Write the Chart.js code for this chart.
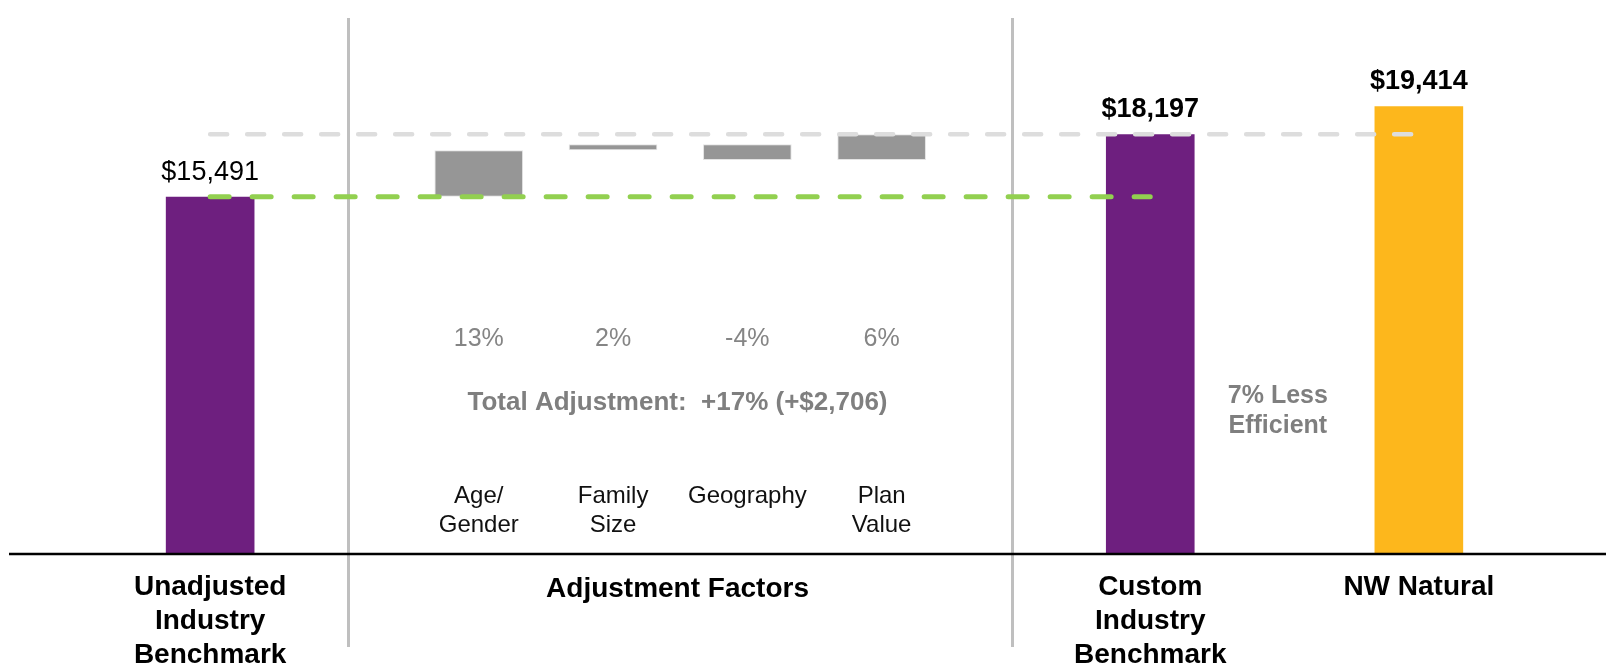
<!DOCTYPE html>
<html>
<head>
<meta charset="utf-8">
<script src="https://cdn.jsdelivr.net/npm/chart.js@4.4.1/dist/chart.umd.min.js"></script>
<style>
  html, body { margin: 0; padding: 0; background: #fff; }
  #wrap { width: 1606px; height: 670px; position: relative; }
</style>
</head>
<body>
<div id="wrap"><canvas id="myChart"></canvas></div>
<script>
// category slots (empty strings are spacer slots between groups)
const categories = ['Unadjusted Industry Benchmark', '', 'Age/Gender', 'Family Size', 'Geography', 'Plan Value', '', 'Custom Industry Benchmark', '', 'NW Natural'];
const axisLabels = [['Unadjusted', 'Industry', 'Benchmark'], [], [], [], [], [], [], ['Custom', 'Industry', 'Benchmark'], [], ['NW Natural']];
const factorLabels = [[], [], ['Age/', 'Gender'], ['Family', 'Size'], ['Geography'], ['Plan', 'Value'], [], [], [], []];

// full bars
const totals = [15491, null, null, null, null, null, null, 18197, null, 19414];
const totalColors = ['#6E1F7F', null, null, null, null, null, null, '#6E1F7F', null, '#FDB71C'];
const valueLabels = ['$15,491', '', '', '', '', '', '', '$18,197', '', '$19,414'];
const valueBold = [false, false, false, false, false, false, false, true, false, true];

// waterfall steps
const stepFrom = [null, null, 15491, 17505, 17765, 17085, null, null, null, null];
const stepTo = [null, null, 17505, 17765, 17085, 18197, null, null, null, null];
const pctLabels = ['', '', '13%', '2%', '-4%', '6%', '', '', '', ''];

// reference lines
const unadjustedLine = [15491, 15491, 15491, 15491, 15491, 15491, 15491, 15491, null, null];
const customLine = [18197, 18197, 18197, 18197, 18197, 18197, 18197, 18197, 18197, 18197];

const totalText = 'Total Adjustment:  +17% (+$2,706)';
const gapText = ['7% Less', 'Efficient'];

const FONT = "'Liberation Sans', Arial, sans-serif";

const steps = stepFrom.map((v, i) => v === null ? null : [v, stepTo[i]]);

const overlay = {
  id: 'overlay',
  beforeDatasetsDraw(chart) {
    const { ctx, chartArea } = chart;
    const x = chart.scales.x;
    ctx.save();
    // separators between groups
    ctx.strokeStyle = '#BFBFBF';
    ctx.lineWidth = 3;
    [1.03, 5.97].forEach(v => {
      const px = Math.round(x.getPixelForValue(v)) + 0.5;
      ctx.beginPath();
      ctx.moveTo(px, chartArea.top);
      ctx.lineTo(px, chartArea.bottom + 93);
      ctx.stroke();
    });
    ctx.restore();
  },
  afterDatasetsDraw(chart) {
    const { ctx, chartArea } = chart;
    const x = chart.scales.x, y = chart.scales.y;
    const bottom = chartArea.bottom;
    ctx.save();
    // baseline
    ctx.strokeStyle = '#000';
    ctx.lineWidth = 2.5;
    ctx.beginPath();
    ctx.moveTo(9, bottom);
    ctx.lineTo(chart.width, bottom);
    ctx.stroke();

    ctx.textAlign = 'center';
    ctx.textBaseline = 'alphabetic';

    // value labels
    valueLabels.forEach((t, i) => {
      if (!t) return;
      ctx.fillStyle = '#000';
      ctx.font = (valueBold[i] ? 'bold ' : '') + '27px ' + FONT;
      ctx.fillText(t, x.getPixelForValue(i), y.getPixelForValue(totals[i]) - 17);
    });

    // factor percentages
    ctx.fillStyle = '#858585';
    ctx.font = '25px ' + FONT;
    pctLabels.forEach((t, i) => {
      if (t) ctx.fillText(t, x.getPixelForValue(i), bottom - 208);
    });

    ctx.font = 'bold 26px ' + FONT;
    ctx.fillStyle = '#7F7F7F';
    ctx.fillText(totalText, x.getPixelForValue(3.48), bottom - 144);
    ctx.font = 'bold 25px ' + FONT;
    gapText.forEach((t, k) => {
      ctx.fillText(t, x.getPixelForValue(7.95), bottom - 151 + k * 30);
    });

    // factor names above the axis
    ctx.fillStyle = '#111';
    ctx.font = '24px ' + FONT;
    factorLabels.forEach((lines, i) => {
      lines.forEach((t, k) => {
        ctx.fillText(t, x.getPixelForValue(i), bottom - 51 + k * 29);
      });
    });

    // group labels below the axis
    ctx.fillStyle = '#000';
    ctx.font = 'bold 28px ' + FONT;
    axisLabels.forEach((lines, i) => {
      lines.forEach((t, k) => {
        ctx.fillText(t, x.getPixelForValue(i), bottom + 41 + k * 34);
      });
    });
    ctx.fillText('Adjustment Factors', x.getPixelForValue(3.48), bottom + 43);
    ctx.restore();
  }
};

const ctx = document.getElementById('myChart');

new Chart(ctx, {
  data: {
    labels: categories,
    datasets: [
      {
        type: 'line',
        data: unadjustedLine,
        borderColor: '#92D050',
        borderWidth: 5,
        borderDash: [19, 23],
        borderCapStyle: 'round',
        pointRadius: 0,
        fill: false,
        order: 0
      },
      {
        type: 'line',
        data: customLine,
        borderColor: '#DDDDDD',
        borderWidth: 4.5,
        borderDash: [17, 20],
        borderCapStyle: 'round',
        pointRadius: 0,
        fill: false,
        order: 0
      },
      {
        type: 'bar',
        data: totals,
        backgroundColor: totalColors,
        grouped: false,
        barPercentage: 0.66,
        categoryPercentage: 1,
        order: 1
      },
      {
        type: 'bar',
        data: steps,
        backgroundColor: '#969696',
        borderColor: '#E4E4E4',
        borderWidth: 1,
        borderSkipped: false,
        grouped: false,
        barPercentage: 0.66,
        categoryPercentage: 1,
        order: 1
      }
    ]
  },
  options: {
    responsive: true,
    maintainAspectRatio: false,
    animation: false,
    layout: { padding: { left: 143, right: 120, top: 18, bottom: 116 } },
    plugins: { legend: { display: false }, tooltip: { enabled: false } },
    scales: {
      x: { display: false },
      y: { display: false, beginAtZero: true, min: 0, max: 23240 }
    }
  },
  plugins: [overlay]
});
</script>
</body>
</html>
